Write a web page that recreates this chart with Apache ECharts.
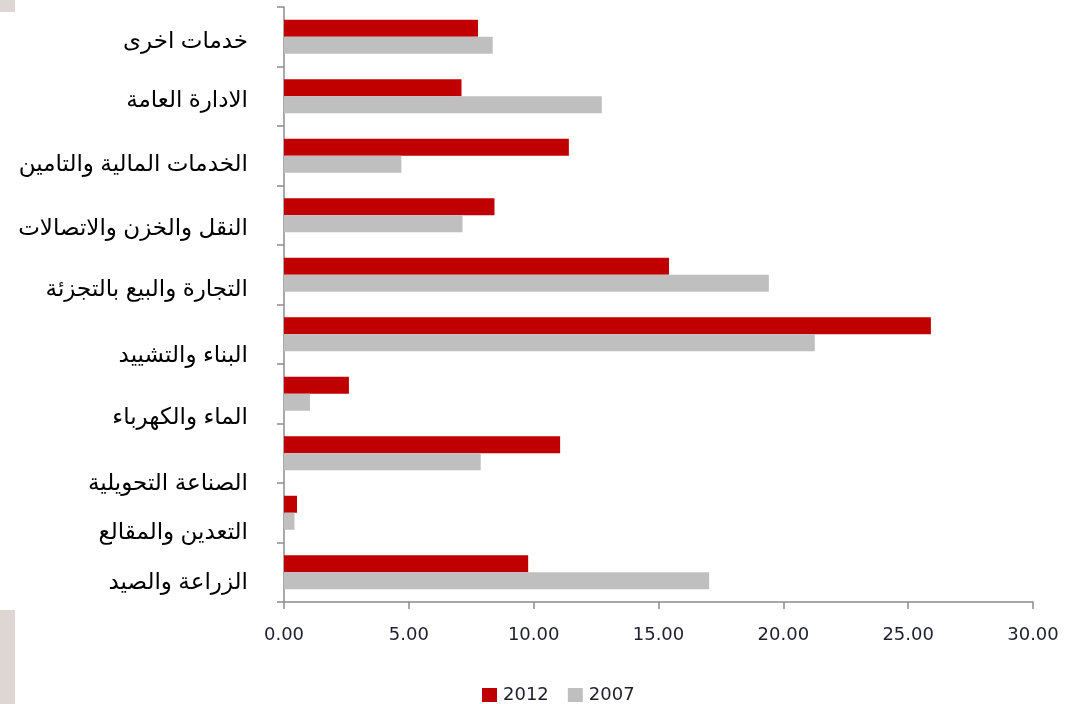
<!DOCTYPE html>
<html>
<head>
<meta charset="utf-8">
<script src="https://cdn.jsdelivr.net/npm/echarts@6/dist/echarts.min.js"></script>
<style>
  html, body { margin: 0; padding: 0; background: #ffffff; }
  #chart { width: 1065px; height: 704px; }
</style>
</head>
<body>
<div id="chart"></div>
<script>
// Sector shares (%), listed from the bottom of the chart to the top
const sectors = [
  'الزراعة والصيد',
  'التعدين والمقالع',
  'الصناعة التحويلية',
  'الماء والكهرباء',
  'البناء والتشييد',
  'التجارة والبيع بالتجزئة',
  'النقل والخزن والاتصالات',
  'الخدمات المالية والتامين',
  'الادارة العامة',
  'خدمات اخرى'
];
const values2012 = [9.78, 0.52, 11.06, 2.60, 25.91, 15.42, 8.43, 11.41, 7.11, 7.77];
const values2007 = [17.03, 0.42, 7.88, 1.04, 21.26, 19.42, 7.15, 4.70, 12.73, 8.36];
const seriesNames = ['2012', '2007'];
const xTicks = { min: 0, max: 30, interval: 5 };

// Downward nudge (px) for each sector label, same order as the sectors
const labelDrop = [10, 20, 30, 24, 21, 15, 13, 9, 4, 5];

const chart = echarts.init(document.getElementById('chart'), null, { renderer: 'canvas' });

const arabicFont = '"Liberation Sans", "DejaVu Sans", sans-serif';
const latinFont = '"DejaVu Sans", sans-serif';

const labelRich = {};
labelDrop.forEach((d, i) => {
  labelRich['r' + i] = {
    fontFamily: arabicFont,
    fontSize: 23,
    color: '#000000',
    padding: [d * 2, 0, 0, 0]
  };
});

chart.setOption({
  animation: false,
  backgroundColor: '#ffffff',
  graphic: [
    { type: 'rect', left: 0, top: 0, shape: { width: 15, height: 12 }, style: { fill: '#ddd6d3' } },
    { type: 'rect', left: 0, top: 610, shape: { width: 15, height: 94 }, style: { fill: '#ddd6d3' } }
  ],
  legend: {
    data: seriesNames,
    left: 477,
    top: 681,
    itemWidth: 15,
    itemHeight: 14,
    itemGap: 19,
    icon: 'rect',
    textStyle: { fontFamily: latinFont, fontSize: 18, color: '#1e1e2c', padding: [0, 0, 0, 1] }
  },
  grid: { left: 284, right: 32, top: 7, bottom: 102, containLabel: false },
  xAxis: {
    type: 'value',
    min: xTicks.min,
    max: xTicks.max,
    interval: xTicks.interval,
    splitLine: { show: false },
    axisLine: { show: true, lineStyle: { color: '#8c8c8c', width: 1.5 } },
    axisTick: { show: true, length: 7, lineStyle: { color: '#8c8c8c', width: 1.5 } },
    axisLabel: {
      margin: 24,
      fontFamily: latinFont,
      fontSize: 18,
      color: '#1e1e2c',
      formatter: v => v.toFixed(2)
    }
  },
  yAxis: {
    type: 'category',
    data: sectors,
    axisLine: { show: true, lineStyle: { color: '#8c8c8c', width: 1.5 } },
    axisTick: { show: true, length: 7, lineStyle: { color: '#8c8c8c', width: 1.5 } },
    axisLabel: {
      margin: 36,
      fontFamily: arabicFont,
      fontSize: 23,
      color: '#000000',
      formatter: (value, index) => '{r' + index + '|' + value + '}',
      rich: labelRich
    }
  },
  series: [
    {
      name: seriesNames[0],
      type: 'bar',
      data: values2012,
      barWidth: 17,
      barGap: '0%',
      itemStyle: { color: '#c00000' }
    },
    {
      name: seriesNames[1],
      type: 'bar',
      data: values2007,
      barWidth: 17,
      barGap: '0%',
      itemStyle: { color: '#bfbfbf' }
    }
  ]
});
</script>
</body>
</html>
